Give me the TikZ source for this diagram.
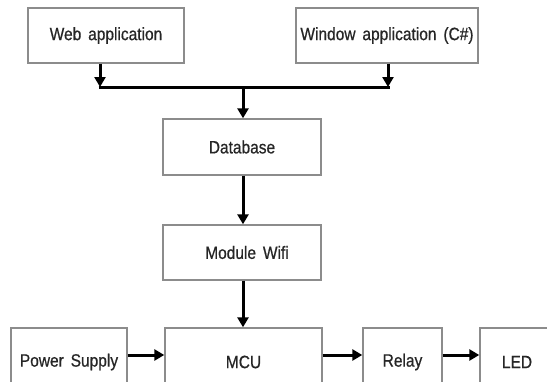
\documentclass[tikz,border=0pt]{standalone}
\usepackage{fontspec}
\setmainfont{Liberation Sans}[WordSpace=1.6,FakeBold=0.7]
\usetikzlibrary{arrows.meta}
\newcommand{\tallt}[1]{\scalebox{1}[1.15]{#1}}
\begin{document}
\begin{tikzpicture}[x=1pt,y=-1pt,
  box/.style={draw=black!45,line width=1.4pt,fill=white,inner sep=0pt,
    font=\fontsize{15.5}{18}\selectfont,text=black!85},
  arr/.style={line width=3pt,-{Triangle[length=10pt,width=11pt]}},
  bar/.style={line width=3pt}]
\useasboundingbox (0,0) rectangle (547,381);
\node[box,minimum width=156pt,minimum height=55pt] (web) at (106,35.5) {\tallt{Web application}};
\node[box,minimum width=182pt,minimum height=55pt] (win) at (387,35.5) {\tallt{Window application (C\#)}};
\node[box,minimum width=158pt,minimum height=56pt] (db) at (242,147) {\tallt{Database}};
\node[box,minimum width=158pt,minimum height=55pt] (wifi) at (242,252.5) {\hspace{10pt}\tallt{Module Wifi}};
\node[box,minimum width=157pt,minimum height=68pt] (mcu) at (243.5,362) {\tallt{MCU}};
\node[box,minimum width=116pt,minimum height=68pt] (ps) at (69,362) {\tallt{Power Supply}};
\node[box,minimum width=79pt,minimum height=68pt] (relay) at (402.5,362) {\tallt{Relay}};
\node[box,minimum width=74pt,minimum height=68pt] (led) at (517,362) {\tallt{LED}};
\coordinate (j1) at (100,87);
\coordinate (j2) at (388,87);
\coordinate (j0) at (243,87);
\coordinate (h) at (0,355);
\draw[bar] ([xshift=-1.5pt]j1) -- ([xshift=1.5pt]j2);
\draw[arr] (web.south -| j1) -- (j1);
\draw[arr] (win.south -| j2) -- (j2);
\draw[arr] (j0) -- (db.north -| j0);
\draw[arr] (db.south -| j0) -- (wifi.north -| j0);
\draw[arr] (wifi.south -| j0) -- (mcu.north -| j0);
\draw[arr] (ps.east |- h) -- (mcu.west |- h);
\draw[arr] (mcu.east |- h) -- (relay.west |- h);
\draw[arr] (relay.east |- h) -- (led.west |- h);
\end{tikzpicture}
\end{document}
